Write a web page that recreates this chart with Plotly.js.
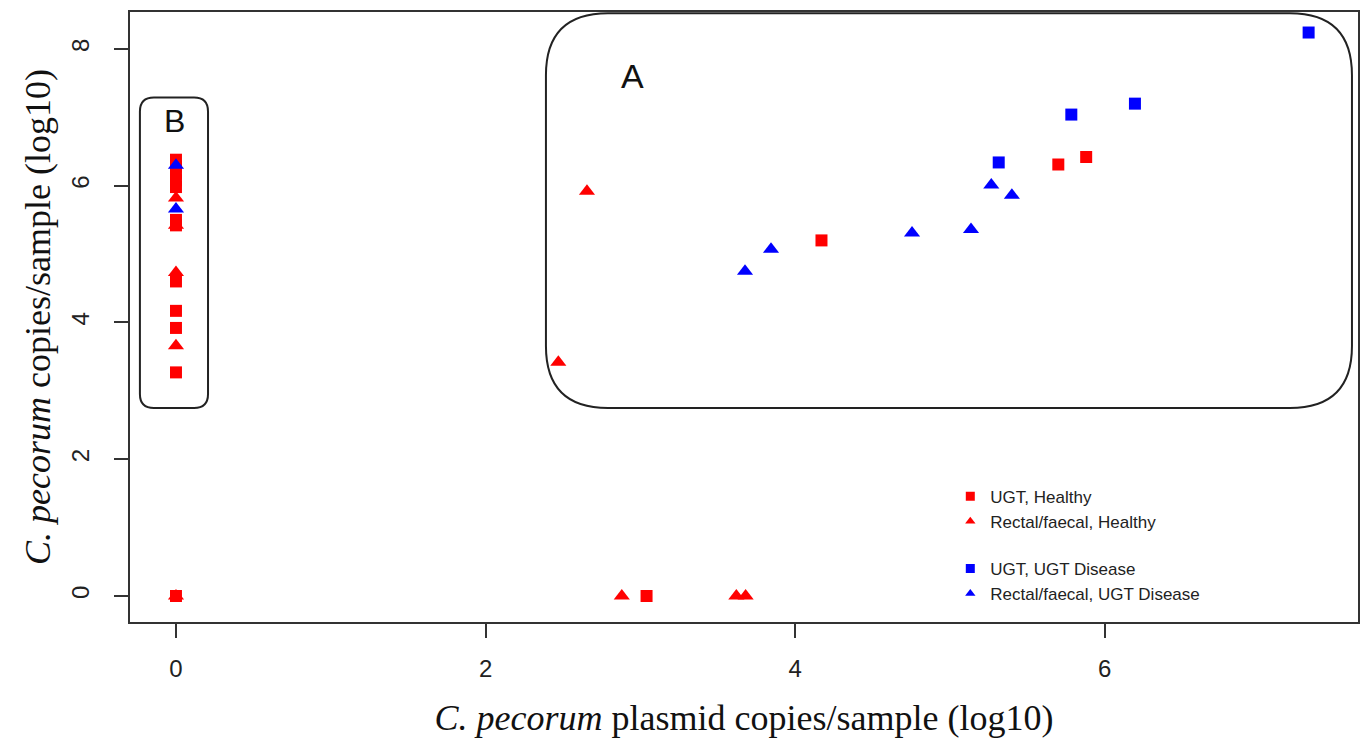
<!DOCTYPE html>
<html>
<head>
<meta charset="utf-8">
<script src="https://cdn.plot.ly/plotly-3.0.1.min.js"></script>
<style>html,body{margin:0;padding:0;background:#fff;}#chart{width:1362px;height:745px;}</style>
</head>
<body>
<div id="chart"></div>
<script>
// ---- data (log10 values) ----
const ugtHealthyX = [0, 0, 0, 0, 0, 0, 0, 0, 0, 0, 0, 0, 3.04, 4.17, 5.70, 5.88];
const ugtHealthyY = [6.38, 6.28, 6.18, 6.08, 5.98, 5.50, 5.42, 4.60, 4.17, 3.92, 3.27, 0, 0, 5.20, 6.31, 6.42];

const rectalHealthyX = [0, 0, 0, 0, 0, 2.47, 2.655, 2.88, 3.62, 3.68];
const rectalHealthyY = [5.82, 5.42, 4.73, 3.66, 0, 3.42, 5.92, 0, 0, 0];

const ugtDiseaseX = [5.315, 5.784, 6.195, 7.317];
const ugtDiseaseY = [6.34, 7.04, 7.20, 8.24];

const rectalDiseaseX = [0, 0, 3.676, 3.844, 4.755, 5.136, 5.267, 5.40];
const rectalDiseaseY = [6.30, 5.66, 4.75, 5.07, 5.31, 5.36, 6.01, 5.86];

const seriesNames = ["UGT, Healthy", "Rectal/faecal, Healthy", "UGT, UGT Disease", "Rectal/faecal, UGT Disease"];
const xTickVals = [0, 2, 4, 6];
const yTickVals = [0, 2, 4, 6, 8];

// ---- layout constants ----
const W = 1362, H = 745;
const M = {l: 130, r: 4, t: 12, b: 123};
const xRange = [-0.297, 7.636];
const yRange = [-0.38, 8.54];
const pxX = (xRange[1] - xRange[0]) / (W - M.l - M.r);
const pxY = (yRange[1] - yRange[0]) / (H - M.t - M.b);

function roundRect(x0, x1, y0, y1, rpx) {
  const rx = rpx * pxX, ry = rpx * pxY;
  return `M ${x0 + rx},${y1} L ${x1 - rx},${y1} Q ${x1},${y1} ${x1},${y1 - ry} ` +
         `L ${x1},${y0 + ry} Q ${x1},${y0} ${x1 - rx},${y0} L ${x0 + rx},${y0} ` +
         `Q ${x0},${y0} ${x0},${y0 + ry} L ${x0},${y1 - ry} Q ${x0},${y1} ${x0 + rx},${y1} Z`;
}

const RED = "#ff0000", BLUE = "#0000ff";

function dataTrace(x, y, color, symbol, size) {
  return {x, y, type: "scatter", mode: "markers", showlegend: false, hoverinfo: "x+y",
          marker: {color, symbol, size, line: {width: 0}}};
}
function legendTrace(name, color, symbol, group) {
  return {x: [null], y: [null], type: "scatter", mode: "markers", name, legendgroup: group,
          marker: {color, symbol, size: 9, line: {width: 0}}};
}

const traces = [
  dataTrace(ugtHealthyX, ugtHealthyY, RED, "square", 12),
  dataTrace(rectalHealthyX, rectalHealthyY, RED, "triangle-up", 14),
  dataTrace(ugtDiseaseX, ugtDiseaseY, BLUE, "square", 12),
  dataTrace(rectalDiseaseX, rectalDiseaseY, BLUE, "triangle-up", 14),
  legendTrace(seriesNames[0], RED, "square", "h"),
  legendTrace(seriesNames[1], RED, "triangle-up", "h"),
  legendTrace(seriesNames[2], BLUE, "square", "d"),
  legendTrace(seriesNames[3], BLUE, "triangle-up", "d")
];

const axisCommon = {
  showgrid: false, zeroline: false, showline: true, mirror: true,
  linecolor: "#333", linewidth: 2, ticks: "outside", ticklen: 14, tickwidth: 2, tickcolor: "#333",
  tickfont: {family: "Liberation Sans, Arial, sans-serif", size: 24, color: "#222"}
};

const layout = {
  width: W, height: H, margin: M,
  paper_bgcolor: "#fff", plot_bgcolor: "#fff",
  xaxis: Object.assign({}, axisCommon, {
    range: xRange, tickmode: "array", tickvals: xTickVals, ticklabelstandoff: 10,
    title: {text: "<i>C. pecorum</i> plasmid copies/sample (log10)", standoff: 24,
            font: {family: "Liberation Serif, Times New Roman, serif", size: 36, color: "#111"}}
  }),
  yaxis: Object.assign({}, axisCommon, {
    range: yRange, tickmode: "array", tickvals: yTickVals, tickangle: -90, ticklabelstandoff: 15,
    title: {text: "<i>C. pecorum</i> copies/sample (log10)", standoff: 6,
            font: {family: "Liberation Serif, Times New Roman, serif", size: 36, color: "#111"}}
  }),
  showlegend: true,
  legend: {x: 0.668, y: 0.235, xanchor: "left", yanchor: "top", bgcolor: "rgba(0,0,0,0)",
           font: {family: "Liberation Sans, Arial, sans-serif", size: 17, color: "#222"},
           tracegroupgap: 22, traceorder: "grouped"},
  shapes: [
    {type: "path", xref: "x", yref: "y", path: roundRect(2.39, 7.597, 2.75, 8.52, 62),
     line: {color: "#222", width: 2}},
    {type: "path", xref: "x", yref: "y", path: roundRect(-0.233, 0.207, 2.75, 7.29, 14),
     line: {color: "#222", width: 2}}
  ],
  annotations: [
    {text: "A", x: 2.95, y: 7.6, xref: "x", yref: "y", showarrow: false,
     font: {family: "Liberation Sans, Arial, sans-serif", size: 34, color: "#111"}},
    {text: "B", x: -0.01, y: 6.95, xref: "x", yref: "y", showarrow: false,
     font: {family: "Liberation Sans, Arial, sans-serif", size: 32, color: "#111"}}
  ]
};

Plotly.newPlot("chart", traces, layout, {displayModeBar: false, staticPlot: true});
</script>
</body>
</html>
